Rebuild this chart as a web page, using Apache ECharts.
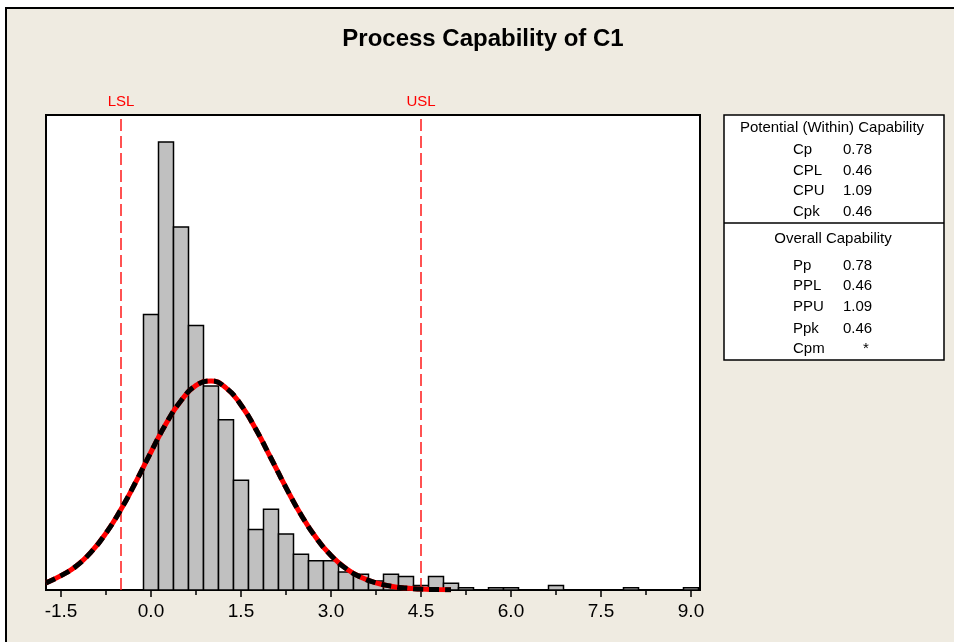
<!DOCTYPE html>
<html>
<head>
<meta charset="utf-8">
<title>Process Capability of C1</title>
<script src="https://cdn.jsdelivr.net/npm/echarts@6/dist/echarts.min.js"></script>
<style>
  html, body { margin: 0; padding: 0; background: #fff; }
  #chart { width: 954px; height: 642px; }
</style>
</head>
<body>
<div id="chart"></div>
<script>
// Histogram of C1: bin centres and counts (bin width 0.25)
const binWidth = 0.25;
const binCenters = [0.0, 0.25, 0.5, 0.75, 1.0, 1.25, 1.5, 1.75, 2.0, 2.25, 2.5, 2.75,
  3.0, 3.25, 3.5, 3.75, 4.0, 4.25, 4.5, 4.75, 5.0, 5.25, 5.5, 5.75, 6.0, 6.25, 6.5, 6.75,
  7.0, 7.25, 7.5, 7.75, 8.0, 8.25, 8.5, 8.75, 9.0];
const binCounts = [123, 200, 162, 118, 91, 76, 49, 27, 36, 25, 16, 13,
  13, 8, 7, 4, 7, 6, 2, 6, 3, 1, 0, 1, 1, 0, 0, 2,
  0, 0, 0, 0, 1, 0, 0, 0, 1];

// Fitted normal curve (expected counts per bin)
const curveX = [-1.75, -1.5, -1.25, -1.0, -0.75, -0.5, -0.25, 0.0, 0.25, 0.5, 0.75, 1.0,
  1.25, 1.5, 1.75, 2.0, 2.25, 2.5, 2.75, 3.0, 3.25, 3.5, 3.75, 4.0, 4.25, 4.5, 4.75, 5.0];
const curveY = [3.2, 6.4, 10.6, 16.9, 25.4, 36.0, 48.4, 61.6, 74.2, 84.5, 91.3, 93.3,
  90.2, 82.6, 71.6, 58.8, 45.7, 33.6, 23.4, 15.4, 9.6, 5.7, 3.2, 1.7, 0.85, 0.4, 0.2, 0.08];

// Specification limits
const specNames = ['LSL', 'USL'];
const specValues = [-0.5, 4.5];

// Axis tick values
const majorTicks = [-1.5, 0.0, 1.5, 3.0, 4.5, 6.0, 7.5, 9.0];
const minorTicks = [-0.75, 0.75, 2.25, 3.75, 5.25, 6.75, 8.25];

// Capability statistics
const withinTitle = 'Potential (Within) Capability';
const withinLabels = ['Cp', 'CPL', 'CPU', 'Cpk'];
const withinValues = ['0.78', '0.46', '1.09', '0.46'];
const overallTitle = 'Overall Capability';
const overallLabels = ['Pp', 'PPL', 'PPU', 'Ppk', 'Cpm'];
const overallValues = ['0.78', '0.46', '1.09', '0.46', '*'];

const FONT = '"Liberation Sans", Arial, Helvetica, sans-serif';
const BG = '#EFEBE1';

const chart = echarts.init(document.getElementById('chart'), null, { renderer: 'canvas' });

const curveData = curveX.map((x, i) => [x, curveY[i]]);
const histData = binCenters.map((x, i) => [x, binCounts[i]]);

// Statistics panel as graphic elements
const panel = [];
const boxX = 724, boxY = 115, boxW = 220, boxH = 245, divY = 223;
panel.push({
  type: 'rect', shape: { x: boxX, y: boxY, width: boxW, height: boxH },
  style: { fill: '#fff', stroke: '#000', lineWidth: 1.5 }, z: 1
});
panel.push({
  type: 'line', shape: { x1: boxX, y1: divY, x2: boxX + boxW, y2: divY },
  style: { stroke: '#000', lineWidth: 1.5 }, z: 2
});
function txt(x, y, text, align) {
  return {
    type: 'text', x: x, y: y, z: 3,
    style: { text: text, font: '15px ' + FONT, fill: '#000', align: align || 'left', verticalAlign: 'middle' }
  };
}
panel.push(txt(832, 128, withinTitle, 'center'));
const withinRows = [150, 171, 191, 212];
withinLabels.forEach((l, i) => {
  panel.push(txt(793, withinRows[i], l));
  panel.push(txt(843, withinRows[i], withinValues[i]));
});
panel.push(txt(833, 239, overallTitle, 'center'));
const overallRows = [266, 286, 307, 329, 349];
overallLabels.forEach((l, i) => {
  const v = overallValues[i];
  panel.push(txt(793, overallRows[i], l));
  if (v === '*') panel.push(txt(866, overallRows[i], v, 'center'));
  else panel.push(txt(843, overallRows[i], v));
});

const option = {
  backgroundColor: '#fff',
  animation: false,
  graphic: [
    {
      type: 'rect', shape: { x: 6, y: 8, width: 1000, height: 700 },
      style: { fill: BG, stroke: '#000', lineWidth: 2 }, z: -10, silent: true
    },
    {
      type: 'text', x: 483, y: 39, z: 5,
      style: { text: 'Process Capability of C1', font: 'bold 24px ' + FONT, fill: '#000', align: 'center', verticalAlign: 'middle' }
    }
  ].concat(panel),
  grid: {
    left: 46, right: 254, top: 115, bottom: 52,
    show: true, backgroundColor: '#fff', borderColor: '#000', borderWidth: 2, z: 0
  },
  xAxis: [
    {
      type: 'value', min: -1.75, max: 9.15, position: 'bottom',
      axisLine: { show: true, onZero: false, lineStyle: { color: '#000', width: 2 } },
      axisTick: { show: true, length: 7, customValues: majorTicks, lineStyle: { color: '#000', width: 1.5 } },
      axisLabel: {
        show: true, customValues: majorTicks, margin: 12,
        formatter: v => Number(v).toFixed(1),
        fontFamily: FONT, fontSize: 19, color: '#000'
      },
      splitLine: { show: false }
    },
    {
      type: 'value', min: -1.75, max: 9.15, position: 'bottom',
      axisLine: { show: false, onZero: false },
      axisTick: { show: true, length: 5, customValues: minorTicks, lineStyle: { color: '#000', width: 1.5 } },
      axisLabel: { show: false },
      splitLine: { show: false }
    }
  ],
  yAxis: {
    type: 'value', min: 0, max: 212, show: false,
    splitLine: { show: false }
  },
  series: [
    {
      name: 'C1',
      type: 'custom',
      xAxisIndex: 0,
      data: histData,
      z: 2,
      renderItem: function (params, api) {
        const c = api.value(0), n = api.value(1);
        if (!n) return null;
        const tl = api.coord([c - binWidth / 2, n]);
        const br = api.coord([c + binWidth / 2, 0]);
        return {
          type: 'rect',
          shape: { x: tl[0], y: tl[1], width: br[0] - tl[0], height: br[1] - tl[1] },
          style: { fill: '#C0C0C0', stroke: '#000', lineWidth: 1.5 }
        };
      }
    },
    {
      name: 'Spec limits',
      type: 'line',
      xAxisIndex: 0,
      data: [],
      z: 3,
      markLine: {
        silent: true,
        symbol: ['none', 'none'],
        lineStyle: { color: '#FF1A1A', width: 1.5, type: [12, 5] },
        label: {
          show: true, position: 'end', distance: 6,
          formatter: p => p.name,
          color: '#FF0000', fontFamily: FONT, fontSize: 15
        },
        data: specValues.map((v, i) => ({ name: specNames[i], xAxis: v }))
      }
    },
    {
      name: 'Within',
      type: 'line',
      xAxisIndex: 0,
      data: curveData,
      smooth: true,
      showSymbol: false,
      z: 4,
      lineStyle: { color: '#FF0000', width: 5 }
    },
    {
      name: 'Overall',
      type: 'line',
      xAxisIndex: 0,
      data: curveData,
      smooth: true,
      showSymbol: false,
      z: 5,
      lineStyle: { color: '#000', width: 5, type: [10, 6], cap: 'butt' }
    }
  ]
};

chart.setOption(option);
</script>
</body>
</html>
